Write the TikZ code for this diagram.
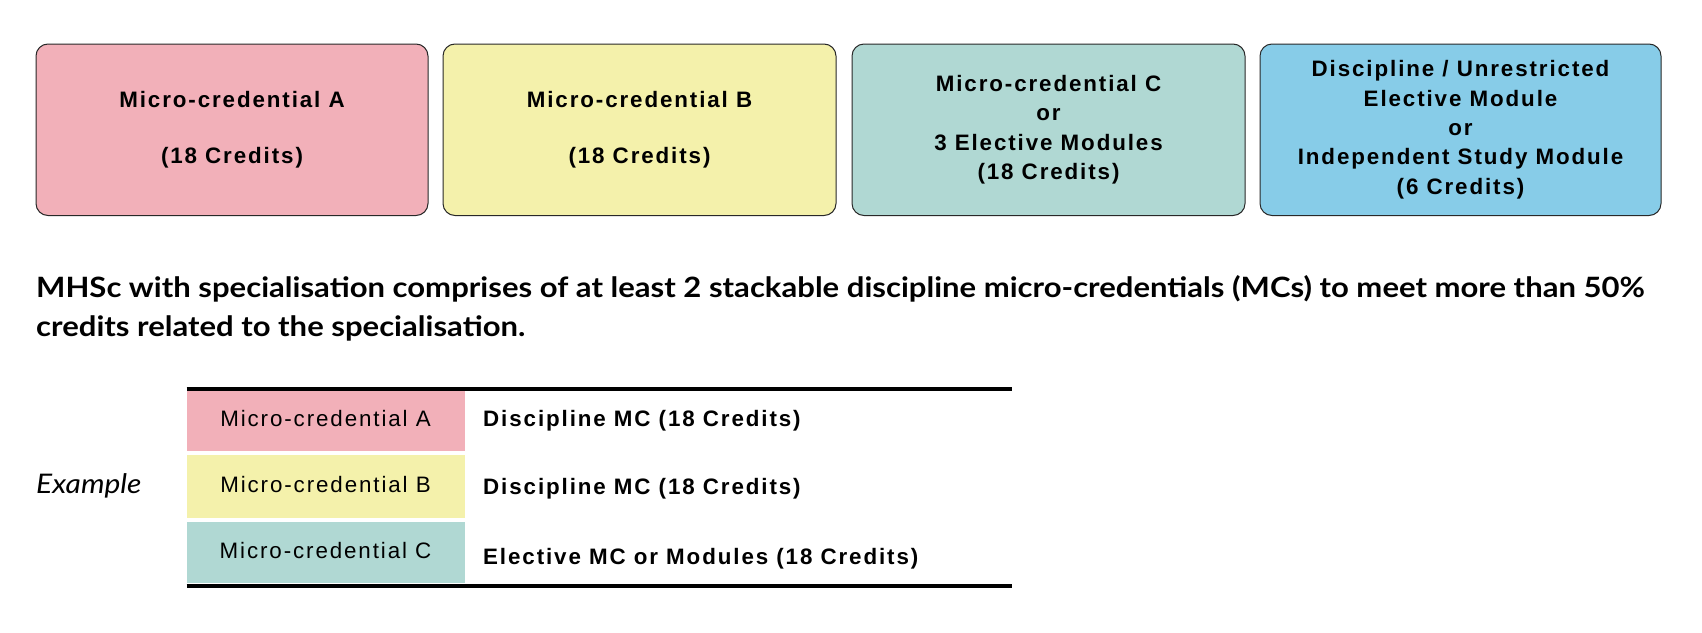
\documentclass[tikz,border=0pt]{standalone}
\usepackage{fontspec}
\setmainfont{Liberation Sans}
\newfontfamily\hvfont[LetterSpace=8.5]{Liberation Sans}
\newfontfamily\latofont[FakeStretch=1.109]{Lato}
\newfontfamily\latoexfont[FakeStretch=1.11]{Lato}
\definecolor{pinkA}{RGB}{242,176,185}
\definecolor{yellowB}{RGB}{244,241,171}
\definecolor{tealC}{RGB}{176,216,211}
\definecolor{blueD}{RGB}{135,204,232}
\definecolor{edgecol}{RGB}{40,40,40}
\begin{document}
\begin{tikzpicture}[x=1pt,y=-1pt,
  topbox/.style={draw=edgecol, line width=1pt, rounded corners=12pt, align=center,
    inner sep=0pt, minimum height=171.5pt,
    font=\hvfont\bfseries\fontsize{22.35}{29.3}\selectfont},
  cellbox/.style={inner sep=0pt, minimum width=278pt, text height=16pt, text depth=4pt,
    font=\hvfont\fontsize{22.35}{26}\selectfont},
  celltext/.style={anchor=base west, inner sep=0pt,
    font=\hvfont\bfseries\fontsize{22.35}{26}\selectfont},
  paratext/.style={anchor=base west, inner sep=0pt,
    font=\latofont\bfseries\fontsize{28}{38}\selectfont},
  examplestyle/.style={anchor=base west, inner sep=0pt,
    font=\latoexfont\itshape\fontsize{27}{30}\selectfont},
  tablerule/.style={line width=3.8pt, black},
]
\useasboundingbox (0,0) rectangle (1702,632);

% top boxes
\node[topbox, fill=pinkA, minimum width=392pt] (mcA) at (232,129.75)
  {Micro-credential A\\[27.3pt](18 Credits)};
\node[topbox, fill=yellowB, minimum width=393pt] (mcB) at (639.5,129.75)
  {Micro-credential B\\[27.3pt](18 Credits)};
\node[topbox, fill=tealC, minimum width=393pt] (mcC) at (1048.5,129.75)
  {Micro-credential C\\or\\3 Elective Modules\\(18 Credits)};
\node[topbox, fill=blueD, minimum width=401pt] (mcD) at (1460.5,129.75)
  {Discipline / Unrestricted\\Elective Module\\or\\Independent Study Module\\(6 Credits)};

% paragraph
\node[paratext] (para1) at (36,297) {MHSc with specialisation comprises of at least 2 stackable discipline micro-credentials (MCs) to meet more than 50\%};
\node[paratext] (para2) at (36,336) {credits related to the specialisation.};

% example label
\node[examplestyle] (example) at (36,493) {Example};

% table
\coordinate (ruleTL) at (186.5,388.7);
\coordinate (ruleTR) at (1012,388.7);
\coordinate (ruleBL) at (186.5,585.6);
\coordinate (ruleBR) at (1012,585.6);

\node[cellbox, fill=pinkA, minimum height=60pt] (cellA) at (325.5,420.7) {Micro-credential A};
\node[cellbox, fill=yellowB, minimum height=63pt] (cellB) at (325.5,486.5) {Micro-credential B};
\node[cellbox, fill=tealC, minimum height=61pt] (cellC) at (325.5,552.5) {Micro-credential C};

\node[celltext] (descA) at (483,426) {Discipline MC (18 Credits)};
\node[celltext] (descB) at (483,494) {Discipline MC (18 Credits)};
\node[celltext] (descC) at (483,564) {Elective MC or Modules (18 Credits)};

\draw[tablerule] (ruleTL) -- (ruleTR);
\draw[tablerule] (ruleBL) -- (ruleBR);
\end{tikzpicture}
\end{document}
